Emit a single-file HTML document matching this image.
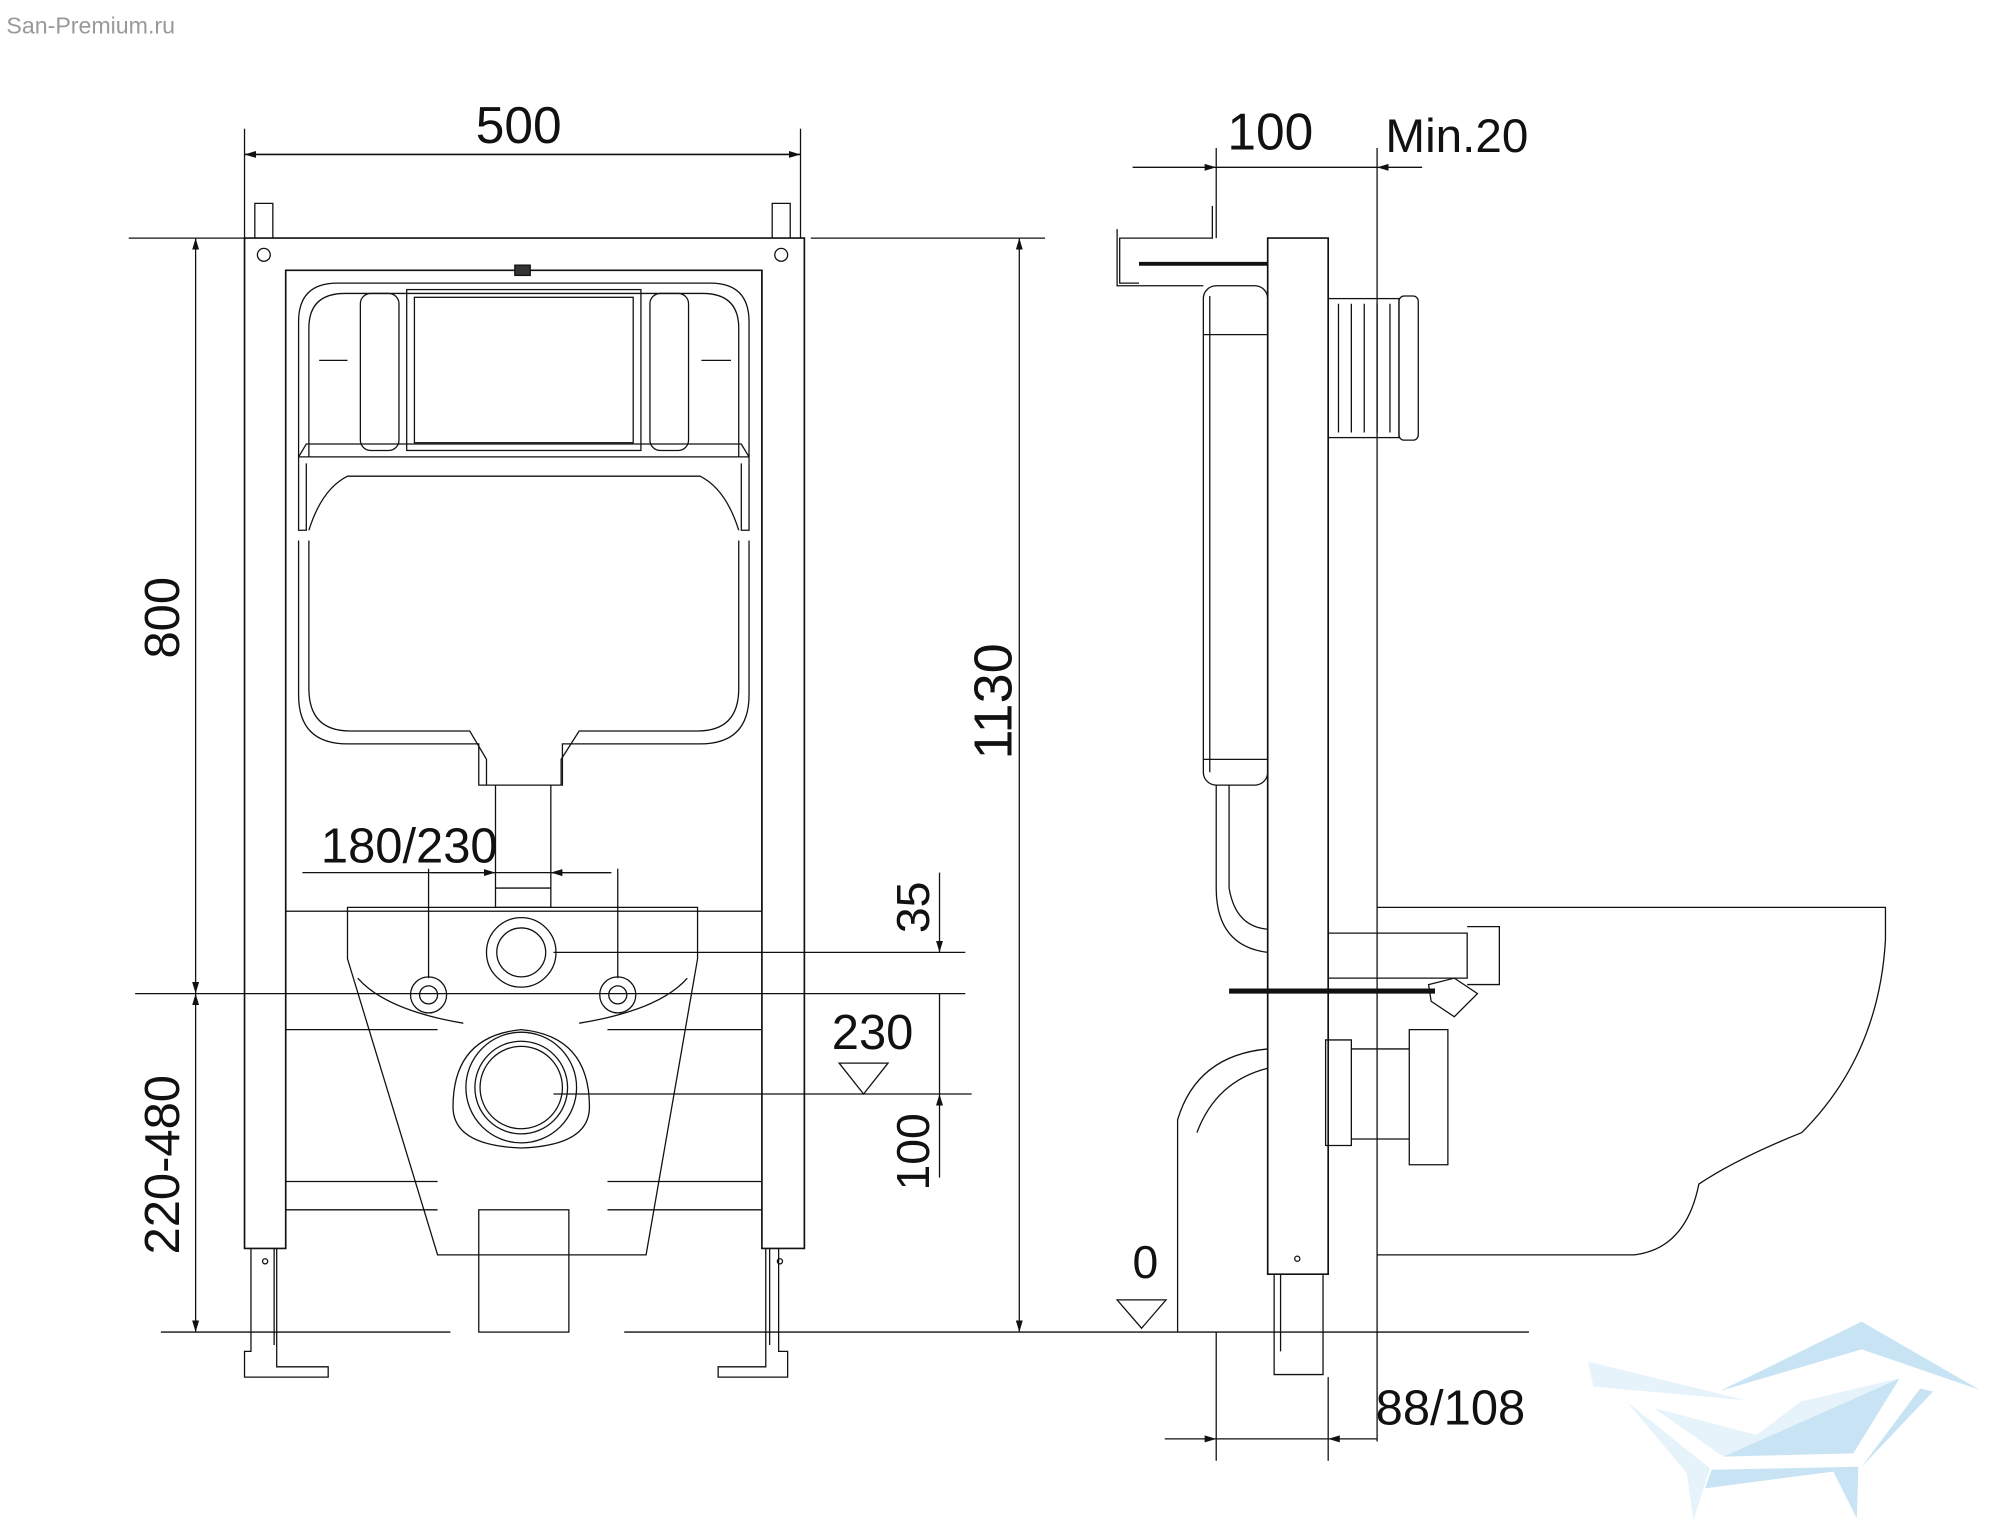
<!DOCTYPE html>
<html><head><meta charset="utf-8"><style>
html,body{margin:0;padding:0;background:#fff;}
svg{display:block;}
text{font-family:"Liberation Sans",sans-serif;fill:#111;}
</style></head><body>
<svg width="2000" height="1538" viewBox="0 0 1554 1195" preserveAspectRatio="none" xmlns="http://www.w3.org/2000/svg">
<defs>
<marker id="a" viewBox="0 0 10 10" refX="10" refY="5" markerWidth="9" markerHeight="9" orient="auto-start-reverse" markerUnits="userSpaceOnUse"><path d="M0,2 L10,5 L0,8z" fill="#111"/></marker>
</defs>
<text x="5" y="26" font-size="18" style="fill:#999">San-Premium.ru</text>
<g stroke="#111" stroke-width="1" fill="none">
<line x1="190" y1="100" x2="190" y2="185"/><line x1="622" y1="100" x2="622" y2="185"/>
<line x1="190" y1="120" x2="622" y2="120" marker-start="url(#a)" marker-end="url(#a)" stroke-width="1.2"/>
<line x1="100" y1="185" x2="190" y2="185"/>
<line x1="105" y1="772" x2="750" y2="772"/>
<line x1="152" y1="185" x2="152" y2="772" marker-start="url(#a)" marker-end="url(#a)"/>
<line x1="152" y1="772" x2="152" y2="1035" marker-start="url(#a)" marker-end="url(#a)"/>
<line x1="125" y1="1035" x2="350" y2="1035"/><line x1="485" y1="1035" x2="1188" y2="1035"/>
<line x1="630" y1="185" x2="812" y2="185"/>
<line x1="792" y1="185" x2="792" y2="1035" marker-start="url(#a)" marker-end="url(#a)"/>
<path d="M190,185 H625 V970 H592 V210 H222 V970 H190 Z" stroke-width="1.3"/>
<rect x="222" y="210" width="370" height="498"/>
<circle cx="205" cy="198" r="5"/><circle cx="607" cy="198" r="5"/>
<path d="M198,185 V158 H212 V185 M600,185 V158 H614 V185"/>
<rect x="400" y="206" width="12" height="8" fill="#333"/>
<path d="M232,360 V250 Q232,220 262,220 H552 Q582,220 582,250 V360"/>
<path d="M240,355 V255 Q240,228 268,228 H546 Q574,228 574,255 V355"/>
<rect x="316" y="225" width="182" height="125"/><rect x="322" y="231" width="170" height="113"/>
<rect x="280" y="228" width="30" height="122" rx="8"/><rect x="505" y="228" width="30" height="122" rx="8"/>
<path d="M232,355 H582 M232,355 L238,345 H576 L582,355 M238,360 V412 H232 V360 M576,360 V412 H582 V360"/>
<path d="M240,412 Q250,380 270,370 H544 Q564,380 574,412"/>
<path d="M232,420 V540 Q232,578 270,578 H372 V610 H437 V578 H544 Q582,578 582,540 V420"/>
<path d="M240,420 V535 Q240,568 272,568 H365 L378,590 V610 M436,610 V590 L450,568 H542 Q574,568 574,535 V420"/>
<path d="M385,610 V690 H428 V610 M385,690 V705 H428 V690"/>
<path d="M248,280 H270 M545,280 H568"/>
<line x1="335" y1="678" x2="475" y2="678"/>
<line x1="335" y1="678" x2="385" y2="678" marker-end="url(#a)"/>
<line x1="475" y1="678" x2="428" y2="678" marker-end="url(#a)"/>
<line x1="333" y1="675" x2="333" y2="760"/><line x1="480" y1="675" x2="480" y2="760"/>
<line x1="235" y1="678" x2="335" y2="678"/>
<path d="M270,705 H542 V745 L502,975 H340 L270,745 Z"/>
<path d="M278,760 Q300,785 360,795 M534,760 Q512,785 450,795"/>
<circle cx="405" cy="740" r="27"/><circle cx="405" cy="740" r="19"/>
<circle cx="333" cy="773" r="14"/><circle cx="333" cy="773" r="7"/>
<circle cx="480" cy="773" r="14"/><circle cx="480" cy="773" r="7"/>
<path d="M352,860 Q352,805 405,800 Q458,805 458,860 Q458,890 405,892 Q352,890 352,860Z"/>
<circle cx="405" cy="845" r="43"/><circle cx="405" cy="845" r="36"/><circle cx="405" cy="845" r="32"/>
<path d="M222,800 H340 M472,800 H592 M222,918 H340 M472,918 H592 M222,940 H340 M472,940 H592"/>
<rect x="372" y="940" width="70" height="95"/>
<line x1="430" y1="740" x2="750" y2="740"/><line x1="430" y1="850" x2="755" y2="850"/>
<line x1="730" y1="678" x2="730" y2="740" marker-end="url(#a)"/>
<line x1="730" y1="772" x2="730" y2="850"/>
<line x1="730" y1="915" x2="730" y2="850" marker-end="url(#a)"/>
<path d="M652,826 H690 L671,850 Z"/>
<path d="M195,970 V1050 H190 V1070 H255 V1062 H215 V970 M213,970 V1045 M605,970 V1050 H612 V1070 H558 V1062 H595 V970 M598,970 V1045"/>
<circle cx="206" cy="980" r="2"/><circle cx="606" cy="980" r="2"/>
<line x1="945" y1="115" x2="945" y2="185"/><line x1="1070" y1="115" x2="1070" y2="1120"/>
<line x1="880" y1="130" x2="945" y2="130" marker-end="url(#a)"/>
<line x1="1105" y1="130" x2="1070" y2="130" marker-end="url(#a)"/>
<line x1="945" y1="130" x2="1070" y2="130"/>
<path d="M985,185 H1032 V990 H985 Z" stroke-width="1.3"/>
<path d="M990,990 V1068 H1028 V990 M995,990 V1050"/><circle cx="1008" cy="978" r="2"/>
<path d="M942,160 V185 H870 V220 H885 M868,178 V222 H935"/>
<path d="M885,205 H985" stroke-width="3"/>
<rect x="935" y="222" width="50" height="388" rx="10"/>
<path d="M940,230 V600 M935,260 H985 M935,590 H985"/>
<path d="M945,610 V690 Q945,735 985,740 M955,610 V690 Q960,720 985,722"/>
<rect x="1032" y="232" width="55" height="108"/><rect x="1087" y="230" width="15" height="112" rx="4"/>
<path d="M1040,236 V336 M1050,236 V336 M1060,236 V336 M1070,236 V336 M1080,236 V336"/>
<path d="M1032,725 H1140 V760 H1032 M1140,720 H1165 V765 H1140"/>
<path d="M955,770 H1115" stroke-width="4"/>
<path d="M1110,765 L1130,760 L1148,772 L1130,790 L1112,778 Z"/>
<path d="M985,815 Q930,820 915,870 V1035 M985,830 Q945,840 930,880"/>
<path d="M1030,808 H1050 V890 H1030 Z M1050,815 H1095 V885 H1050 M1095,800 H1125 V905 H1095 Z"/>
<path d="M1070,705 H1465 V730 Q1460,820 1400,880 Q1350,900 1320,920 Q1310,970 1270,975 H1070"/>
<line x1="945" y1="1035" x2="945" y2="1135"/><line x1="1032" y1="1070" x2="1032" y2="1135"/>
<line x1="905" y1="1118" x2="945" y2="1118" marker-end="url(#a)"/>
<line x1="1070" y1="1118" x2="1032" y2="1118" marker-end="url(#a)"/>
<line x1="945" y1="1118" x2="1032" y2="1118"/>
<path d="M868,1010 H906 L887,1032 Z"/>
</g>
<g>
<path d="M1336.5,1080.7 L1446.5,1026.9 L1538.5,1080 L1446.5,1048.4 Z" fill="#c8e4f4"/>
<path d="M1234,1058 L1357,1088 L1238,1077.4 Z" fill="#e6f3fb"/>
<path d="M1285,1094 L1365,1115 L1399,1089 L1476,1071 L1339,1131.8 Z" fill="#e6f3fb"/>
<path d="M1339,1131.8 L1476,1071 L1440,1129.2 Z" fill="#c8e4f4"/>
<path d="M1492,1078.7 L1502,1081.3 L1446.5,1139.6 Z" fill="#c8e4f4"/>
<path d="M1330,1142 L1444,1139.6 L1442.7,1179.7 L1424.5,1143.4 L1324.8,1156.4 Z" fill="#c8e4f4"/>
<path d="M1264,1089 L1328.7,1140.9 L1315.8,1181 L1310.6,1144.7 Z" fill="#e6f3fb"/>
</g>
<text x="403" y="111" font-size="40" text-anchor="middle">500</text>
<text x="987" y="116" font-size="40" text-anchor="middle">100</text>
<text x="1132" y="118" font-size="37" text-anchor="middle">Min.20</text>
<text x="318" y="670" font-size="38" text-anchor="middle">180/230</text>
<text x="678" y="815" font-size="38" text-anchor="middle">230</text>
<text x="890" y="993" font-size="36" text-anchor="middle">0</text>
<text x="1127" y="1107" font-size="38" text-anchor="middle">88/108</text>
<text transform="translate(139,480) rotate(-90)" font-size="38" text-anchor="middle">800</text>
<text transform="translate(139,905) rotate(-90)" font-size="38" text-anchor="middle">220-480</text>
<text transform="translate(786,545) rotate(-90)" font-size="42" text-anchor="middle">1130</text>
<text transform="translate(722,705) rotate(-90)" font-size="36" text-anchor="middle">35</text>
<text transform="translate(722,895) rotate(-90)" font-size="36" text-anchor="middle">100</text>
</svg>
</body></html>
